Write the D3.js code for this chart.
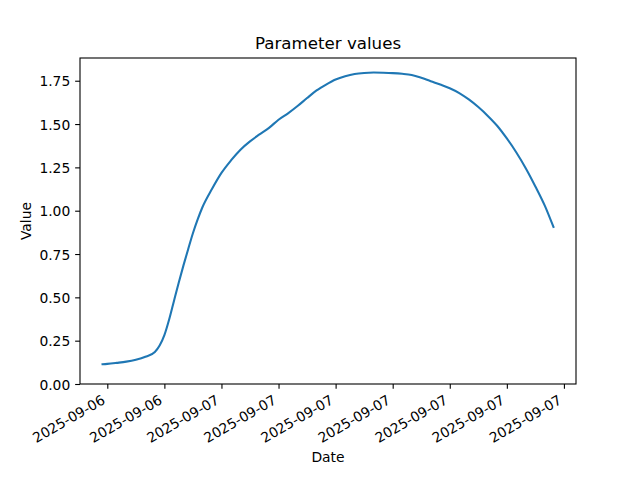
<!DOCTYPE html>
<html>
<head>
<meta charset="utf-8">
<script src="https://cdn.jsdelivr.net/npm/d3@7"></script>
<style>
  html, body { margin: 0; padding: 0; background: #fff; }
  text { font-family: "DejaVu Sans", sans-serif; fill: #000; }
</style>
</head>
<body>
<svg id="chart" width="640" height="480"></svg>
<script>
// ---- data ----
const times = [
  "2025-09-06T17:45", "2025-09-06T18:00", "2025-09-06T18:30", "2025-09-06T19:00",
  "2025-09-06T19:30", "2025-09-06T20:00", "2025-09-06T20:30", "2025-09-06T20:45",
  "2025-09-06T21:00", "2025-09-06T21:15", "2025-09-06T21:30", "2025-09-06T21:45",
  "2025-09-06T22:00", "2025-09-06T22:15", "2025-09-06T22:30", "2025-09-06T22:45",
  "2025-09-06T23:00", "2025-09-06T23:30", "2025-09-07T00:00", "2025-09-07T00:30",
  "2025-09-07T01:00", "2025-09-07T01:30", "2025-09-07T02:00", "2025-09-07T02:30",
  "2025-09-07T03:00", "2025-09-07T03:30", "2025-09-07T04:00", "2025-09-07T04:30",
  "2025-09-07T05:00", "2025-09-07T05:30", "2025-09-07T06:00", "2025-09-07T06:30",
  "2025-09-07T07:00", "2025-09-07T07:30", "2025-09-07T08:00", "2025-09-07T08:30",
  "2025-09-07T09:00", "2025-09-07T09:30", "2025-09-07T10:00", "2025-09-07T10:30",
  "2025-09-07T11:00", "2025-09-07T11:30", "2025-09-07T12:00", "2025-09-07T12:30",
  "2025-09-07T13:00", "2025-09-07T13:30", "2025-09-07T14:00", "2025-09-07T14:30",
  "2025-09-07T15:00", "2025-09-07T15:30", "2025-09-07T16:00", "2025-09-07T16:30",
  "2025-09-07T17:00", "2025-09-07T17:27"
];
const values = [
  0.114, 0.116, 0.122, 0.129,
  0.140, 0.157, 0.185, 0.222,
  0.282, 0.372, 0.478, 0.583,
  0.683, 0.778, 0.870, 0.950,
  1.020, 1.125, 1.218, 1.290,
  1.352, 1.400, 1.440, 1.478,
  1.525, 1.562, 1.604, 1.650,
  1.694, 1.728, 1.757, 1.776,
  1.789, 1.795, 1.797, 1.796,
  1.794, 1.790, 1.783, 1.767,
  1.747, 1.728, 1.707, 1.679,
  1.642, 1.598, 1.547, 1.489,
  1.417, 1.336, 1.244, 1.140,
  1.028, 0.906
];
const yTicks = [0.00, 0.25, 0.50, 0.75, 1.00, 1.25, 1.50, 1.75];
const xTickTimes = [
  "2025-09-06T18:00", "2025-09-06T21:00", "2025-09-07T00:00", "2025-09-07T03:00",
  "2025-09-07T06:00", "2025-09-07T09:00", "2025-09-07T12:00", "2025-09-07T15:00",
  "2025-09-07T18:00"
];
const titleText = "Parameter values";
const xLabelText = "Date";
const yLabelText = "Value";

// ---- layout ----
const W = 640, H = 480;
const margin = { left: 80, right: 64, top: 58, bottom: 96 };
const iw = W - margin.left - margin.right;
const ih = H - margin.top - margin.bottom;

const parse = d3.utcParse("%Y-%m-%dT%H:%M");
const data = times.map((t, i) => ({ t: parse(t), v: values[i] }));

const tMin = d3.min(data, d => d.t), tMax = d3.max(data, d => d.t);
const span = tMax - tMin;
const x = d3.scaleUtc()
  .domain([new Date(+tMin - span * 0.05), new Date(+tMax + span * 0.05)])
  .range([0, iw]);
const vMax = d3.max(values), vMin = d3.min(values);
const y = d3.scaleLinear()
  .domain([0, vMax + (vMax - vMin) * 0.05])
  .range([ih, 0]);

const svg = d3.select("#chart");
const g = svg.append("g").attr("transform", `translate(${margin.left},${margin.top})`);

const tickLen = 4.86, pad = 4.86, fs = 13.89;

// x axis
const xAxis = d3.axisBottom(x)
  .tickValues(xTickTimes.map(parse))
  .tickFormat(d3.utcFormat("%Y-%m-%d"))
  .tickSize(tickLen).tickPadding(0);
const gx = g.append("g").attr("transform", `translate(0,${ih})`).call(xAxis);
gx.select(".domain").remove();
gx.selectAll(".tick line").attr("stroke", "#000").attr("stroke-width", 1.1);
gx.selectAll(".tick text")
  .attr("font-size", fs)
  .attr("font-family", "DejaVu Sans, sans-serif")
  .attr("text-anchor", "end")
  .attr("y", null).attr("dy", null)
  .attr("transform", `translate(-1.7,${tickLen + pad + 9.2}) rotate(-30)`);

// y axis
const yAxis = d3.axisLeft(y)
  .tickValues(yTicks)
  .tickFormat(d3.format(".2f"))
  .tickSize(tickLen).tickPadding(pad);
const gy = g.append("g").call(yAxis);
gy.select(".domain").remove();
gy.selectAll(".tick line").attr("stroke", "#000").attr("stroke-width", 1.1);
gy.selectAll(".tick text")
  .attr("font-size", fs)
  .attr("font-family", "DejaVu Sans, sans-serif")
  .attr("dy", "0.36em");

// line
const line = d3.line().curve(d3.curveMonotoneX).x(d => x(d.t)).y(d => y(d.v));
g.append("path")
  .datum(data)
  .attr("fill", "none")
  .attr("stroke", "#1f77b4")
  .attr("stroke-width", 2.08)
  .attr("stroke-linejoin", "round")
  .attr("stroke-linecap", "square")
  .attr("d", line);

// frame
g.append("rect")
  .attr("x", 0).attr("y", 0).attr("width", iw).attr("height", ih)
  .attr("fill", "none").attr("stroke", "#000").attr("stroke-width", 1.1);

// title and labels
svg.append("text")
  .attr("x", margin.left + iw / 2).attr("y", margin.top - 8.8)
  .attr("text-anchor", "middle").attr("font-size", 16.67)
  .text(titleText);
svg.append("text")
  .attr("x", margin.left + iw / 2).attr("y", 462)
  .attr("text-anchor", "middle").attr("font-size", fs)
  .text(xLabelText);
svg.append("text")
  .attr("transform", `translate(31,${margin.top + ih / 2}) rotate(-90)`)
  .attr("text-anchor", "middle").attr("font-size", fs)
  .text(yLabelText);
</script>
</body>
</html>
